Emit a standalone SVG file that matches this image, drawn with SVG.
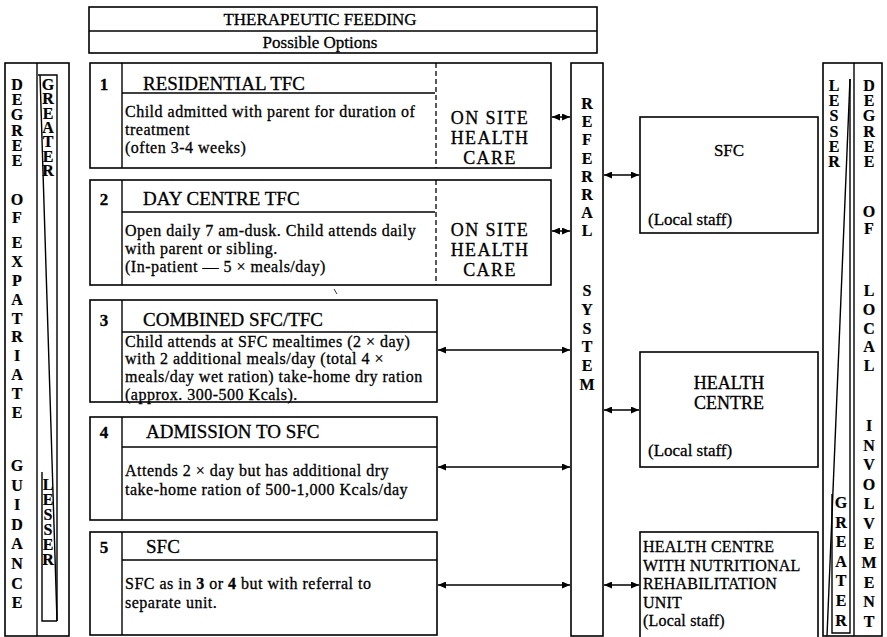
<svg xmlns="http://www.w3.org/2000/svg" width="887" height="637" viewBox="0 0 887 637">
<defs>
<marker id="ah" markerUnits="userSpaceOnUse" markerWidth="9" markerHeight="7" refX="8" refY="3.5" orient="auto-start-reverse">
<path d="M0,0 L8,3.5 L0,7 z" fill="#000"/>
</marker>
<style>
.bx{fill:none;stroke:#000;stroke-width:1.6}
.ln{fill:none;stroke:#000;stroke-width:1.4}
.ds{fill:none;stroke:#000;stroke-width:1.3;stroke-dasharray:5,3}
.ar{fill:none;stroke:#000;stroke-width:1.5;marker-start:url(#ah);marker-end:url(#ah)}
text{font-family:"Liberation Serif","Times New Roman",serif;fill:#000;stroke:#000;stroke-width:0.3}
.hd{font-size:17px}
.nm{font-size:17px;font-weight:bold;text-anchor:middle}
.tt{font-size:19px}
.bd{font-size:16px;letter-spacing:0.5px}
.os{font-size:18px;letter-spacing:1.4px;text-anchor:middle}
.vl{font-size:16px;font-weight:bold;stroke-width:0.2;writing-mode:vertical-rl;text-orientation:upright}
.rt{font-size:17px}
.rc{font-size:18px;text-anchor:middle}
.nr{font-size:16px;letter-spacing:0.2px}
</style>
</defs>
<rect x="0" y="0" width="887" height="637" fill="#fff"/>

<g id="header">
<rect class="bx" x="89" y="7" width="508" height="46"/>
<line class="ln" x1="89" y1="31" x2="597" y2="31"/>
<text class="hd" x="320" y="25" text-anchor="middle">THERAPEUTIC FEEDING</text>
<text class="hd" x="320" y="48" text-anchor="middle">Possible Options</text>
</g>

<g id="left-column">
<rect class="bx" x="5" y="63" width="64" height="573"/>
<line class="ln" x1="37" y1="63" x2="37" y2="636"/>
<path class="ln" d="M38,75 H57 V621"/>
<path class="ln" d="M40,75 L57,621"/>
<path class="ln" d="M42,472 V621 H57"/>
<text class="vl" x="17" y="76" letter-spacing="-1.8">DEGREE</text>
<text class="vl" x="17" y="191" letter-spacing="1.3">OF</text>
<text class="vl" x="17" y="234" letter-spacing="1.9">EXPATRIATE</text>
<text class="vl" x="17" y="457" letter-spacing="2.6">GUIDANCE</text>
<text class="vl" x="48" y="76" letter-spacing="-2.7">GREATER</text>
<text class="vl" x="48" y="476" letter-spacing="-2.1">LESSER</text>
</g>

<g id="option-1">
<rect class="bx" x="90" y="63" width="461" height="105"/>
<line class="ln" x1="122" y1="63" x2="122" y2="168"/>
<line class="ln" x1="122" y1="93" x2="435" y2="93"/>
<line class="ds" x1="436" y1="63" x2="436" y2="168"/>
<text class="nm" x="104" y="90">1</text>
<text class="tt" x="143" y="90">RESIDENTIAL TFC</text>
<text class="bd" x="125" y="117">Child admitted with parent for duration of</text>
<text class="bd" x="125" y="135">treatment</text>
<text class="bd" x="125" y="153">(often 3-4 weeks)</text>
<text class="os" x="490" y="124">ON SITE</text>
<text class="os" x="490" y="144">HEALTH</text>
<text class="os" x="490" y="164">CARE</text>
</g>

<g id="option-2">
<rect class="bx" x="90" y="180" width="461" height="105"/>
<line class="ln" x1="122" y1="180" x2="122" y2="285"/>
<line class="ln" x1="122" y1="212" x2="435" y2="212"/>
<line class="ds" x1="436" y1="180" x2="436" y2="285"/>
<text class="nm" x="104" y="205">2</text>
<text class="tt" x="143" y="205">DAY CENTRE TFC</text>
<text class="bd" x="125" y="236">Open daily 7 am-dusk. Child attends daily</text>
<text class="bd" x="125" y="254">with parent or sibling.</text>
<text class="bd" x="125" y="272">(In-patient — 5 × meals/day)</text>
<text class="os" x="490" y="236">ON SITE</text>
<text class="os" x="490" y="256">HEALTH</text>
<text class="os" x="490" y="276">CARE</text>
<line x1="334" y1="289" x2="337" y2="294" stroke="#000" stroke-width="0.8"/>
</g>

<g id="option-3">
<rect class="bx" x="90" y="300" width="347" height="102"/>
<line class="ln" x1="122" y1="300" x2="122" y2="402"/>
<line class="ln" x1="122" y1="332" x2="437" y2="332"/>
<text class="nm" x="104" y="326">3</text>
<text class="tt" x="143" y="326">COMBINED SFC/TFC</text>
<text class="bd" x="125" y="346.5">Child attends at SFC mealtimes (2 × day)</text>
<text class="bd" x="125" y="364.3">with 2 additional meals/day (total 4 ×</text>
<text class="bd" x="125" y="382.1">meals/day wet ration) take-home dry ration</text>
<text class="bd" x="125" y="399.9">(approx. 300-500 Kcals).</text>
</g>

<g id="option-4">
<rect class="bx" x="90" y="417" width="347" height="103"/>
<line class="ln" x1="122" y1="417" x2="122" y2="520"/>
<line class="ln" x1="122" y1="447" x2="437" y2="447"/>
<text class="nm" x="104" y="438">4</text>
<text class="tt" x="146" y="438">ADMISSION TO SFC</text>
<text class="bd" x="125" y="476">Attends 2 × day but has additional dry</text>
<text class="bd" x="125" y="495">take-home ration of 500-1,000 Kcals/day</text>
</g>

<g id="option-5">
<rect class="bx" x="90" y="532" width="347" height="103"/>
<line class="ln" x1="122" y1="532" x2="122" y2="635"/>
<line class="ln" x1="122" y1="560" x2="437" y2="560"/>
<text class="nm" x="104" y="553">5</text>
<text class="tt" x="146" y="553">SFC</text>
<text class="bd" x="125" y="589">SFC as in <tspan font-weight="bold">3</tspan> or <tspan font-weight="bold">4</tspan> but with referral to</text>
<text class="bd" x="125" y="608">separate unit.</text>
</g>

<g id="referral-system">
<rect class="bx" x="571" y="63" width="32" height="573"/>
<text class="vl" x="587" y="95" letter-spacing="1.2">REFERRAL</text>
<text class="vl" x="587" y="282" letter-spacing="1.8">SYSTEM</text>
</g>

<g id="sfc-local">
<rect class="bx" x="640" y="117" width="178" height="116"/>
<text class="rt" x="729" y="156" text-anchor="middle">SFC</text>
<text class="rt" x="648" y="225">(Local staff)</text>
</g>

<g id="health-centre">
<rect class="bx" x="640" y="352" width="178" height="115"/>
<text class="rc" x="729" y="389">HEALTH</text>
<text class="rc" x="729" y="409">CENTRE</text>
<text class="rt" x="648" y="456">(Local staff)</text>
</g>

<g id="health-centre-nru">
<rect class="bx" x="640" y="532" width="178" height="110"/>
<text class="nr" x="643" y="552">HEALTH CENTRE</text>
<text class="nr" x="643" y="570.5">WITH NUTRITIONAL</text>
<text class="nr" x="643" y="589">REHABILITATION</text>
<text class="nr" x="643" y="607.5">UNIT</text>
<text class="nr" x="643" y="626">(Local staff)</text>
</g>

<g id="right-column">
<rect class="bx" x="823" y="63" width="59" height="573"/>
<line class="ln" x1="854" y1="63" x2="854" y2="636"/>
<path class="ln" d="M850,79 V633 H832 V494"/>
<path class="ln" d="M850,79 L827,636"/>
<text class="vl" x="834" y="77" letter-spacing="-1.8">LESSER</text>
<text class="vl" x="869" y="77" letter-spacing="-1.8">DEGREE</text>
<text class="vl" x="869" y="203" letter-spacing="0.3">OF</text>
<text class="vl" x="869" y="282" letter-spacing="1.8">LOCAL</text>
<text class="vl" x="869" y="417" letter-spacing="2.6">INVOLVEMENT</text>
<text class="vl" x="841" y="494" letter-spacing="2.6">GREATER</text>
</g>

<g id="connectors">
<line class="ar" x1="552" y1="117" x2="570" y2="117"/>
<line class="ar" x1="552" y1="231" x2="570" y2="231"/>
<line class="ar" x1="604" y1="175" x2="639" y2="175"/>
<line class="ar" x1="438" y1="350" x2="570" y2="350"/>
<line class="ar" x1="604" y1="410" x2="639" y2="410"/>
<line class="ar" x1="438" y1="467" x2="570" y2="467"/>
<line class="ar" x1="438" y1="585" x2="570" y2="585"/>
<line class="ar" x1="604" y1="585" x2="639" y2="585"/>
</g>
</svg>
